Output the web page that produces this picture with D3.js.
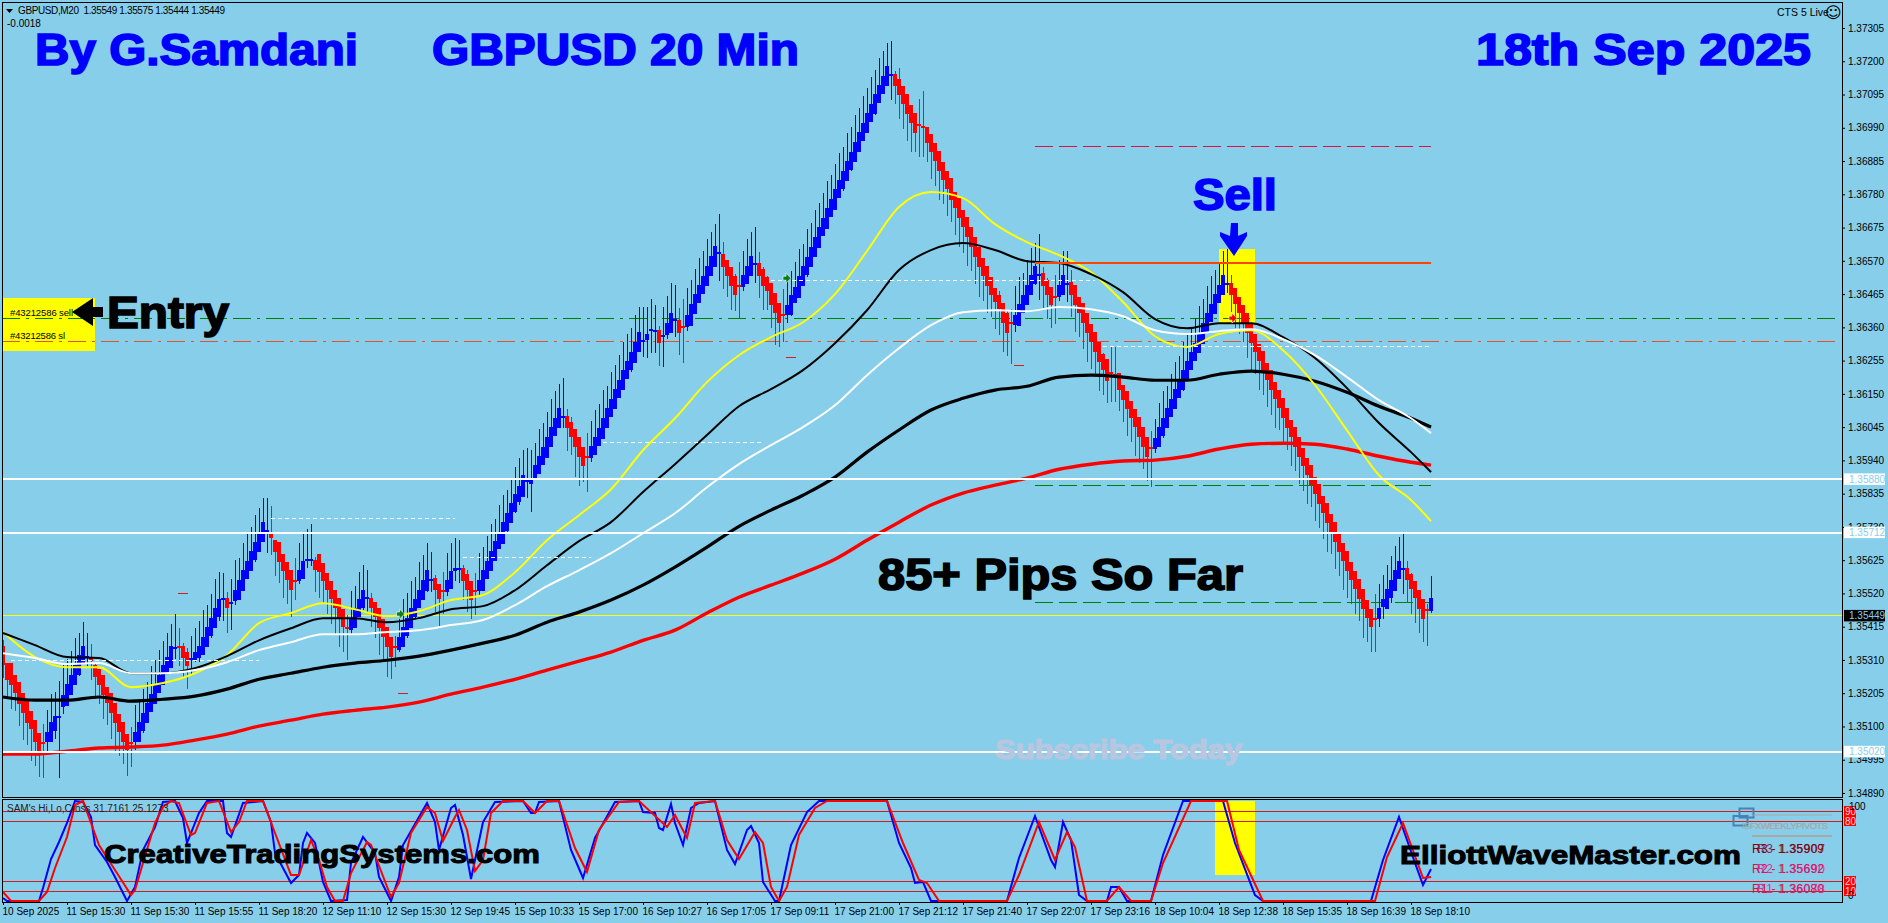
<!DOCTYPE html>
<html><head><meta charset="utf-8">
<style>html,body{margin:0;padding:0;background:#87CEEB;overflow:hidden}svg{display:block}</style>
<script src="https://cdnjs.cloudflare.com/ajax/libs/d3/7.8.5/d3.min.js"></script>
</head><body><svg id="c" width="1888" height="923"></svg>
<script>
// All price arrays are in points above 1.30000 (5294 = 1.35294)
const closes=[
5294,5246,5230,5205,5170,5142,5110,5092,5051,5022,5047,5082,5114,5133,5133,5199,
5234,5262,5294,5325,5354,5322,5306,5256,5230,5199,5174,5142,5110,5082,5051,5025,
5047,5082,5114,5142,5174,5202,5234,5262,5294,5319,5354,5350,5350,5316,5290,5316,
5335,5354,5382,5414,5442,5474,5502,5505,5474,5492,5530,5562,5593,5622,5654,5682,
5714,5745,5720,5695,5650,5619,5590,5562,5530,5559,5593,5622,5628,5628,5593,5587,
5559,5530,5502,5474,5442,5414,5410,5442,5474,5502,5530,5508,5474,5445,5410,5382,
5350,5319,5347,5382,5414,5442,5474,5502,5530,5562,5593,5565,5530,5502,5524,5562,
5590,5600,5600,5559,5530,5499,5527,5562,5593,5622,5654,5685,5710,5745,5773,5805,
5833,5859,5893,5878,5878,5925,5953,5982,6013,6045,6073,6105,6080,6042,6013,5982,
5950,5922,5950,5985,6013,6042,6073,6105,6133,6165,6193,6225,6253,6282,6313,6345,
6320,6339,6354,6351,6310,6335,6373,6405,6386,6342,6361,6399,6433,6465,6493,6522,
6553,6585,6616,6597,6550,6522,6490,6462,6490,6525,6553,6585,6563,6522,6490,6474,
6430,6405,6373,6399,6430,6462,6487,6522,6553,6582,6613,6645,6676,6705,6736,6765,
6796,6825,6853,6885,6913,6945,6976,7005,7036,7065,7096,7125,7153,7185,7159,7121,
7093,7065,7033,7005,6973,6998,6992,6942,6913,6885,6853,6825,6796,6762,6736,6705,
6676,6645,6613,6582,6550,6522,6490,6462,6440,6417,6373,6342,6373,6399,6433,6462,
6493,6525,6553,6528,6490,6462,6430,6455,6493,6525,6500,6462,6430,6405,6373,6342,
6313,6282,6250,6225,6190,6215,6209,6162,6130,6102,6073,6045,6013,5982,5950,5975,
6010,6045,6073,6105,6133,6165,6193,6225,6253,6282,6310,6342,6373,6405,6433,6465,
6493,6525,6500,6462,6433,6405,6373,6342,6310,6282,6253,6222,6193,6162,6133,6105,
6073,6042,6013,5982,5950,5922,5893,5862,5833,5802,5773,5742,5714,5682,5650,5622,
5590,5562,5534,5502,5470,5442,5414,5436,5474,5502,5534,5562,5593,5622,5600,5562,
5534,5505,5470,5439,5464,5505];
// close minus open; the sign gives the candle colour
const bodies=[
-60,-54,-70,-56,-70,-64,-70,-56,-70,-56,-3,32,64,47,3,38,
70,64,64,64,56,3,-9,-38,-50,-64,-50,-64,-64,-56,-64,-50,
-3,32,64,56,64,56,64,56,64,50,70,6,-3,-38,-44,3,
25,38,56,64,56,64,56,3,-32,3,35,64,64,56,64,56,
64,64,3,-19,-38,-64,-56,-56,-64,-3,35,56,6,3,-32,-56,
-56,-56,-56,-56,-64,-56,-3,38,64,56,56,3,-32,-47,-64,-56,
-64,-64,-6,41,64,56,64,56,56,64,64,3,-38,-47,-6,38,
56,9,3,-41,-50,-60,-3,35,64,56,64,64,50,70,56,64,
56,50,70,3,13,41,56,56,64,64,56,64,3,-38,-47,-56,
-64,-60,-3,38,56,56,64,64,56,64,56,64,56,56,64,64,
6,19,3,3,-41,3,38,64,3,-41,-3,38,70,64,56,56,
64,64,64,3,-41,-50,-60,-60,-3,38,56,64,3,-41,-54,-44,
-69,-64,-63,-3,32,64,50,70,64,56,64,64,64,56,64,56,
64,56,56,64,56,64,64,56,64,56,64,56,56,64,3,-38,
-50,-56,-64,-56,-64,-3,-3,-50,-56,-56,-64,-56,-56,-70,-50,-64,
-56,-64,-64,-64,-64,-56,-64,-56,-44,-44,-63,-63,-3,32,70,56,
64,64,56,3,-41,-47,-57,-3,38,64,3,-41,-64,-50,-64,-64,
-56,-64,-64,-50,-70,-3,-3,-54,-47,-56,-56,-56,-64,-64,-64,-6,
35,64,56,64,56,64,56,64,56,56,56,64,64,64,56,64,
56,64,3,-38,-50,-50,-57,-64,-64,-56,-56,-64,-56,-64,-56,-56,
-64,-64,-56,-64,-64,-56,-56,-64,-56,-64,-56,-64,-56,-64,-64,-56,
-64,-56,-56,-64,-64,-56,-56,-6,35,25,64,56,64,56,6,-38,
-47,-54,-60,-63,-6,41];
// high above the close on up bars, above the body middle on down bars
const upperWicks=[
50,20,10,30,8,25,40,10,30,20,60,70,90,75,110,95,
80,75,85,70,76,73,50,30,15,10,20,30,12,25,15,20,
50,85,70,75,65,90,75,80,75,76,70,105,60,30,35,70,
75,80,85,70,75,90,85,80,35,75,95,70,85,90,75,85,
75,76,100,90,20,10,15,30,25,70,85,90,95,110,25,15,
15,10,25,8,20,15,40,85,70,85,80,85,30,25,20,12,
25,15,35,75,90,80,85,70,90,80,85,85,30,25,60,85,
90,95,90,30,40,30,55,85,75,80,85,70,90,85,75,80,
85,90,80,100,95,70,85,75,80,90,85,75,120,40,40,20,
25,20,75,80,85,75,90,70,85,75,80,90,85,75,85,80,
105,85,95,80,35,90,85,95,107,60,88,85,75,80,85,80,
85,75,70,120,60,25,30,35,75,75,85,76,114,55,35,25,
20,15,25,82,85,75,80,85,70,90,75,85,75,80,85,75,
80,85,75,90,80,85,75,85,80,85,75,85,80,72,105,30,
60,25,15,30,20,82,113,15,20,30,10,25,15,30,20,12,
25,15,30,20,10,25,15,30,20,35,20,40,44,90,85,70,
80,85,73,126,40,30,25,70,80,76,100,60,20,15,25,10,
20,12,25,30,20,82,88,15,25,10,20,30,15,25,20,55,
60,75,85,70,80,85,75,90,85,75,80,85,75,85,90,75,
73,76,107,45,25,20,30,15,25,10,20,30,15,25,10,20,
15,25,10,20,30,15,25,10,20,15,25,10,20,15,25,10,
25,15,30,20,10,25,15,79,76,76,76,76,76,76,107,41,
28,25,19,19,19,69];
// low below the close on down bars, below the body middle on up bars
const lowerWicks=[
40,60,75,55,70,85,70,100,75,80,110,45,30,50,195,40,
25,30,20,35,15,30,60,70,60,75,70,80,90,75,70,82,
75,40,25,35,15,20,30,15,20,15,25,35,60,60,73,50,
20,30,15,25,35,15,40,70,80,85,30,20,25,15,30,35,
30,20,70,55,75,65,85,75,85,60,25,15,25,20,70,80,
70,75,80,85,90,80,100,30,25,20,35,45,60,65,85,70,
95,70,60,25,20,35,15,30,25,20,35,40,70,85,70,30,
25,35,45,60,70,60,75,30,20,15,30,25,15,20,30,25,
30,35,20,55,95,15,20,25,15,30,20,25,35,73,55,95,
90,50,110,30,25,20,35,15,20,30,15,25,20,35,15,30,
50,65,75,70,73,98,30,25,55,70,114,30,25,15,20,15,
25,15,35,90,70,65,75,50,104,30,20,25,60,70,75,60,
73,100,76,85,40,35,25,30,20,35,25,15,30,20,15,30,
25,20,35,15,30,20,25,15,20,30,35,25,25,30,80,55,
75,80,85,90,60,100,95,60,85,80,90,75,85,70,85,90,
80,90,75,85,95,80,85,70,85,80,90,73,130,38,25,20,
25,20,30,79,70,75,73,85,30,20,60,70,85,75,80,90,
85,75,90,80,70,90,85,65,70,85,75,90,80,70,76,120,
30,20,35,15,25,30,20,35,15,25,20,30,15,25,20,30,
25,20,30,55,75,65,60,80,85,70,90,75,85,80,90,70,
85,70,90,75,85,80,90,70,85,75,80,90,70,85,75,90,
85,75,80,70,90,75,79,101,44,50,13,44,32,22,79,73,
79,79,76,73,110,25];

// Moving averages, read every 8 bars plus the last bar
const maBars=[0,8,16,24,32,40,48,56,64,72,80,88,96,104,112,120,128,136,144,152,160,168,176,184,192,200,208,216,224,232,240,248,256,264,272,280,288,296,304,312,320,328,336,344,352,357];
const maYellow=[5398,5319,5287,5287,5224,5237,5268,5325,5426,5458,5489,5470,5448,5464,5499,5515,5587,5688,5767,5849,5972,6073,6187,6272,6329,6376,6465,6601,6740,6787,6768,6686,6629,6588,6534,6440,6332,6298,6339,6351,6288,6178,6035,5893,5815,5748];
const maBlackThin=[5395,5357,5319,5316,5268,5268,5284,5322,5372,5410,5442,5442,5429,5442,5470,5480,5530,5609,5685,5745,5840,5928,6020,6111,6165,6225,6310,6414,6541,6604,6626,6604,6569,6563,6528,6471,6386,6357,6373,6373,6329,6263,6168,6058,5966,5903];
const maWhite=[5331,5316,5297,5300,5268,5268,5278,5303,5341,5366,5391,5391,5398,5404,5420,5436,5483,5543,5593,5647,5710,5773,5855,5928,5988,6045,6114,6209,6294,6367,6408,6414,6411,6424,6417,6395,6351,6339,6348,6354,6323,6272,6203,6130,6073,6026];
const maBlackThick=[5193,5183,5183,5193,5180,5186,5196,5218,5249,5268,5287,5300,5309,5322,5341,5363,5388,5429,5461,5499,5546,5603,5666,5732,5783,5830,5887,5966,6036,6099,6136,6162,6174,6203,6209,6203,6193,6193,6212,6222,6212,6190,6155,6111,6073,6045];
const maRed=[5013,5013,5022,5032,5035,5041,5057,5076,5101,5120,5139,5151,5161,5177,5202,5224,5249,5278,5306,5335,5372,5404,5458,5508,5546,5584,5628,5688,5745,5799,5837,5862,5884,5912,5928,5938,5941,5953,5976,5991,5994,5991,5976,5953,5934,5925];

// Oscillator vertices: bar index and value
const oscBlueBars=[0,1,9,10,12,14,16,18,20,22,23,26,28,31,33,35,38,40,43,45,46,49,51,55,56,57,60,65,67,68,72,74,75,76,78,80,82,86,87,90,93,94,97,99,100,106,108,109,112,113,115,117,120,123,130,132,133,134,139,142,145,148,153,159,160,163,164,165,167,168,170,172,174,178,181,183,186,187,189,190,193,194,197,201,204,221,224,227,228,230,232,251,254,258,262,263,265,267,269,271,276,277,279,281,287,290,295,305,308,313,315,342,345,349,353,355,357];
const oscBlueVals=[3,0,0,13,42,59,78,100,99,84,56,39,24,0,14,51,74,99,100,83,58,88,100,100,68,64,98,100,79,48,18,26,58,68,58,19,0,1,38,64,48,24,0,24,56,98,79,51,93,96,66,22,79,99,100,88,88,99,100,51,23,63,99,100,89,88,73,71,97,78,56,93,98,100,51,37,71,75,58,19,0,0,56,89,100,100,58,33,18,19,0,0,43,85,41,34,79,61,6,0,0,14,14,0,0,46,100,100,58,6,0,0,41,84,38,16,32];
const oscRedBars=[0,2,9,11,13,16,18,20,22,24,28,32,33,35,38,40,42,44,47,48,51,54,57,59,61,65,68,72,74,77,79,81,83,85,87,91,92,97,99,102,106,108,110,113,114,116,118,120,122,125,130,133,136,139,143,146,149,154,159,166,168,171,173,178,181,184,188,190,192,194,196,199,203,206,221,225,229,231,234,251,254,259,263,266,268,271,276,279,282,287,290,297,306,309,315,343,346,350,355,357];
const oscRedVals=[9,0,0,9,33,64,96,100,78,56,31,6,11,38,78,94,100,98,66,68,98,100,69,79,100,100,68,26,26,61,41,14,0,0,28,59,56,4,18,68,94,88,60,84,91,71,30,41,88,100,100,88,100,100,53,29,71,99,100,74,86,63,98,100,61,42,69,58,14,0,14,66,93,100,100,58,21,18,0,0,26,79,41,69,54,0,0,14,0,0,38,100,100,51,0,0,44,78,23,24];
const oscLevels=[90,80,20,10];

// Horizontal levels, prices in points above 1.30000
const priceTicks=[7305,7200,7095,6990,6885,6780,6675,6570,6465,6360,6255,6150,6045,5940,5835,5730,5625,5520,5415,5310,5205,5100,4995,4890];
const whiteLevels=[5880,5712,5020];
const currentPrice=5449;
const orderLevels=[{p:6388,c:"#008000"},{p:6316,c:"#e2532a"}];
const boxDash=[{p:6930,c:"#dc143c"},{p:5861,c:"#008000"},{p:5492,c:"#008000"}];
const boxBars=[258,357];
const stopLevel=6564;
const dottedLevels=[[5309,2,64],[5758,67,113],[5635,115,147],[5998,150,190],[6509,192,273],[6301,275,357]];
const redTicks=[[5521,44,46],[5205,99,101],[6266,196,198],[6238,253,255]];
const greenArrows=[[99.4,5455],[196,6515]];
const sellArrow=[307.5,6389];
const timeLabels=["10 Sep 2025","11 Sep 15:30","11 Sep 15:30","11 Sep 15:55","11 Sep 18:20","12 Sep 11:10","12 Sep 15:30","12 Sep 19:45","15 Sep 10:33","15 Sep 17:00","16 Sep 10:27","16 Sep 17:05","17 Sep 09:11","17 Sep 21:00","17 Sep 21:12","17 Sep 21:40","17 Sep 22:07","17 Sep 23:16","18 Sep 10:04","18 Sep 12:38","18 Sep 15:35","18 Sep 16:39","18 Sep 18:10"];

const svg=d3.select("#c");
const BAR="'Liberation Sans',Arial,sans-serif";
const x=d3.scaleLinear().domain([0,357]).range([3,1431]);
const y=d3.scaleLinear().domain([1.34890,1.37305]).range([793,28]);
const py=p=>y(1.3+p/1e5);
const oy=d3.scaleLinear().domain([0,100]).range([901,801]);
const L=2,R=1842;

svg.append("rect").attr("width",1888).attr("height",923).attr("fill","#87CEEB");

// clip for main window / sub window
const defs=svg.append("defs");
defs.append("clipPath").attr("id","m").append("rect").attr("x",L).attr("y",2).attr("width",R-L).attr("height",795);
defs.append("clipPath").attr("id","s").append("rect").attr("x",L).attr("y",799).attr("width",R-L).attr("height",103);
const main=svg.append("g").attr("clip-path","url(#m)");
const sub=svg.append("g").attr("clip-path","url(#s)");

// yellow highlights
main.append("rect").attr("x",3).attr("y",298).attr("width",92).attr("height",53).attr("fill","#ffff00");
main.append("rect").attr("x",1219).attr("y",py(6607)).attr("width",36).attr("height",75).attr("fill","#ffff00");
sub.append("rect").attr("x",1215).attr("y",801).attr("width",40).attr("height",74).attr("fill","#ffff00");

// behind-candle lines
function hl(g,x1,x2,yy,c,w,dash){
  const l=g.append("line").attr("x1",x1).attr("x2",x2).attr("y1",yy).attr("y2",yy).attr("stroke",c).attr("stroke-width",w).attr("shape-rendering","crispEdges");
  if(dash)l.attr("stroke-dasharray",dash);return l;}
hl(main,L,R,py(currentPrice),"#ffff00",1);
orderLevels.forEach(d=>hl(main,L,1836,py(d.p),d.c,1,"18,6,3,6"));
boxDash.forEach(d=>hl(main,x(boxBars[0]),x(boxBars[1]),py(d.p),d.c,1,"18,6"));

// candles
const bars=closes.map((c,i)=>{const b=bodies[i],o=c-b,t=Math.max(o,c),u=Math.min(o,c),mid=(o+c)/2,up=b>0;
  return {i,c,o,t,u,up,hi:(up?c:mid)+upperWicks[i],lo:(up?mid:c)-lowerWicks[i]};});
const cg=main.append("g").attr("shape-rendering","crispEdges");
cg.selectAll("line").data(bars).join("line")
  .attr("x1",d=>x(d.i)+.5).attr("x2",d=>x(d.i)+.5)
  .attr("y1",d=>py(d.hi)).attr("y2",d=>py(d.lo))
  .attr("stroke",d=>d.up?"#0000ff":"#d41c1c").attr("stroke-width",1);
cg.selectAll("rect").data(bars).join("rect")
  .attr("x",d=>x(d.i)-2).attr("width",4)
  .attr("y",d=>py(d.t)).attr("height",d=>Math.max(2,py(d.u)-py(d.t)))
  .attr("fill",d=>d.up?"#0000ff":"#ff0000");

// moving averages
const maLine=d3.line().x((d,i)=>x(maBars[i])).y(d=>py(d)).curve(d3.curveMonotoneX);
[[maRed,"#ff0000",3.4],[maBlackThick,"#000000",3.2],[maYellow,"#ffff00",2],[maBlackThin,"#000000",2],[maWhite,"#ffffff",2]]
 .forEach(([v,c,w])=>main.append("path").attr("d",maLine(v)).attr("fill","none").attr("stroke",c).attr("stroke-width",w));

// on-top levels
hl(main,x(boxBars[0]),x(boxBars[1]),py(stopLevel),"#ff4500",2);
whiteLevels.forEach(p=>hl(main,L,R,py(p),"#ffffff",2));
dottedLevels.forEach(([p,a,b])=>hl(main,x(a),x(b),py(p),"#ffffff",1,"4,3"));
redTicks.forEach(([p,a,b])=>hl(main,x(a)-1,x(b)+1,py(p),"#d41c1c",1));
greenArrows.forEach(([b,p])=>{const X=x(b),Y=py(p);
  main.append("path").attr("d",`M${X-4},${Y-2}h3v-3l5,5l-5,5v-3h-3z`).attr("fill","#0a7d1e").attr("stroke","#fff").attr("stroke-width",.6);});
{const X=x(sellArrow[0]),Y=py(sellArrow[1]);
 main.append("path").attr("d",`M${X-4},${Y-2}h3v-3l5,5l-5,5v-3h-3z`).attr("fill","#ff0000").attr("stroke","#fff").attr("stroke-width",.6);}

// oscillator
oscLevels.forEach(v=>hl(sub,L,R,oy(v),"#d41c1c",1));
const oscLine=(bs)=>d3.line().x((d,i)=>x(bs[i])).y(d=>oy(d));
sub.append("path").attr("d",oscLine(oscBlueBars)(oscBlueVals)).attr("fill","none").attr("stroke","#0000ff").attr("stroke-width",2);
sub.append("path").attr("d",oscLine(oscRedBars)(oscRedVals)).attr("fill","none").attr("stroke","#ff0000").attr("stroke-width",2);

// frames
const frame=(x0,y0,w,h)=>svg.append("rect").attr("x",x0).attr("y",y0).attr("width",w).attr("height",h).attr("fill","none").attr("stroke","#000").attr("stroke-width",1).attr("shape-rendering","crispEdges");
frame(2.5,2.5,R-2,795);
frame(2.5,799.5,R-2,102.5);

// axes
const pa=svg.append("g").attr("transform",`translate(${R},0)`)
  .call(d3.axisRight(y).tickValues(priceTicks.map(p=>1.3+p/1e5)).tickFormat(d3.format(".5f")).tickSize(3).tickPadding(3));
pa.select(".domain").remove();
pa.selectAll("text").attr("font-family",BAR).attr("font-size","10px").attr("fill","#000");
pa.selectAll("line").attr("stroke","#000");
const ta=svg.append("g").attr("transform","translate(0,902)")
  .call(d3.axisBottom(x).tickValues(timeLabels.map((d,i)=>i*16)).tickFormat((d,i)=>timeLabels[i]).tickSize(3).tickPadding(3));
ta.select(".domain").remove();
ta.selectAll("text").attr("font-family",BAR).attr("font-size","10px").attr("fill","#000").attr("text-anchor","start").attr("dx",-1);
ta.selectAll("line").attr("stroke","#000");

// axis badges
function badge(p,fill,txt){
  svg.append("rect").attr("x",1844).attr("y",py(p)-6).attr("width",41).attr("height",11.5).attr("fill",fill);
  svg.append("text").attr("x",1849).attr("y",py(p)+3.5).text("1."+(30000+p)).attr("font-family",BAR).attr("font-size","10px").attr("fill",txt);
}
whiteLevels.forEach(p=>badge(p,"#ffffff","#87CEEB"));
badge(currentPrice,"#000000","#87CEEB");
oscLevels.forEach(v=>{
  svg.append("rect").attr("x",1844).attr("y",oy(v)-5).attr("width",12).attr("height",10).attr("fill","#ff0000");
  svg.append("text").attr("x",1845).attr("y",oy(v)+3.5).text(v).attr("font-family",BAR).attr("font-size","10px").attr("fill","#ffd0d0");
});
const t=(s,X,Y,o={})=>{const e=svg.append("text").attr("x",X).attr("y",Y).text(s)
  .attr("font-family",o.f||BAR).attr("font-size",(o.s||10)+"px").attr("fill",o.c||"#000");
  if(o.b)e.attr("font-weight","bold");
  if(o.st)e.attr("stroke",o.c||"#000").attr("stroke-width",o.st);
  if(o.w)e.attr("textLength",o.w).attr("lengthAdjust",o.b?"spacingAndGlyphs":"spacing");
  if(o.op)e.attr("opacity",o.op);return e;};
t("100",1849,810,{s:10});t("0",1848,899,{s:10});

// header
svg.append("path").attr("d","M6,9h7l-3.5,4z").attr("fill","#000");
t("GBPUSD,M20  1.35549 1.35575 1.35444 1.35449",18,14,{s:10,w:207}).attr("xml:space","preserve");
t("-0.0018",7,27,{s:10});
t("CTS 5 Live",1777,16,{s:10.5});
t("\u263A",1825,18,{s:16,f:"'DejaVu Sans'"});
t("SAM's Hi,Lo,Cross 31.7161 25.1273",7,812,{s:10,c:"#222"});

// titles
const big={b:1,s:44,st:1.6};
t("By G.Samdani",35,65,{...big,c:"#0000ff",w:323});
t("GBPUSD 20 Min",432,65,{...big,c:"#0000ff",w:367});
t("18th Sep 2025",1476,65,{...big,c:"#0000ff",w:335});
t("Sell",1193,210,{...big,c:"#0000ff",w:84});
t("Entry",107,328,{...big,c:"#000",w:122});
t("85+ Pips So Far",878,590,{...big,c:"#000",w:365});
t("Subscribe Today",995,759,{b:1,s:28,st:1.2,c:"#b9c6e0",w:247});
t("CreativeTradingSystems.com",104,863,{b:1,s:26,st:1,c:"#000",w:436});
t("ElliottWaveMaster.com",1400,864,{b:1,s:26,st:1,c:"#000",w:341});

// order labels
t("#43212586 sell",10,316,{s:9.5,w:63});
t("#43212586 sl",10,339,{s:9.5,w:55});

// arrows
svg.append("path").attr("d","M72,312L93,298L93,307L103,307L103,317L93,317L93,326Z").attr("fill","#000");
svg.append("path").attr("d","M1231,223h7v13l9,-4v4l-13,20l-14,-20v-4l10,4z").attr("fill","#0000ff");

// pivot panel
svg.append("rect").attr("x",1733.5).attr("y",816).attr("width",14).attr("height",9.5).attr("fill","none").attr("stroke","#4682b4").attr("stroke-width",2);
svg.append("rect").attr("x",1739.5).attr("y",808.5).attr("width",14).attr("height",9).attr("fill","none").attr("stroke","#4682b4").attr("stroke-width",2);
svg.append("line").attr("x1",1753).attr("x2",1832).attr("y1",815).attr("y2",815).attr("stroke","#a9a9a9");
svg.append("line").attr("x1",1752).attr("x2",1832).attr("y1",836).attr("y2",836).attr("stroke","#a9a9a9").attr("stroke-width",2);
t("IBFXWEEKLYPIVOTS",1742,829,{s:9.5,c:"#a9a9a9",w:86});
t("FXWEEKLYPIVOTS",1750,829,{s:9.5,c:"#a9a9a9",w:78});
[["R3",1.35909,853,"#8b0000"],["R2",1.35692,873,"#dc143c"],["R1",1.36080,893,"#dc143c"]].forEach(([n,v,Y,c])=>{
  t(n+" - "+v.toFixed(5),1752,Y,{s:12,c,w:72});
  t(n+"  "+(v-0.00002).toFixed(5),1757,Y,{s:12,c:c==="#8b0000"?"#800020":"#e0148c",w:68,op:.8});
});
</script></body></html>
